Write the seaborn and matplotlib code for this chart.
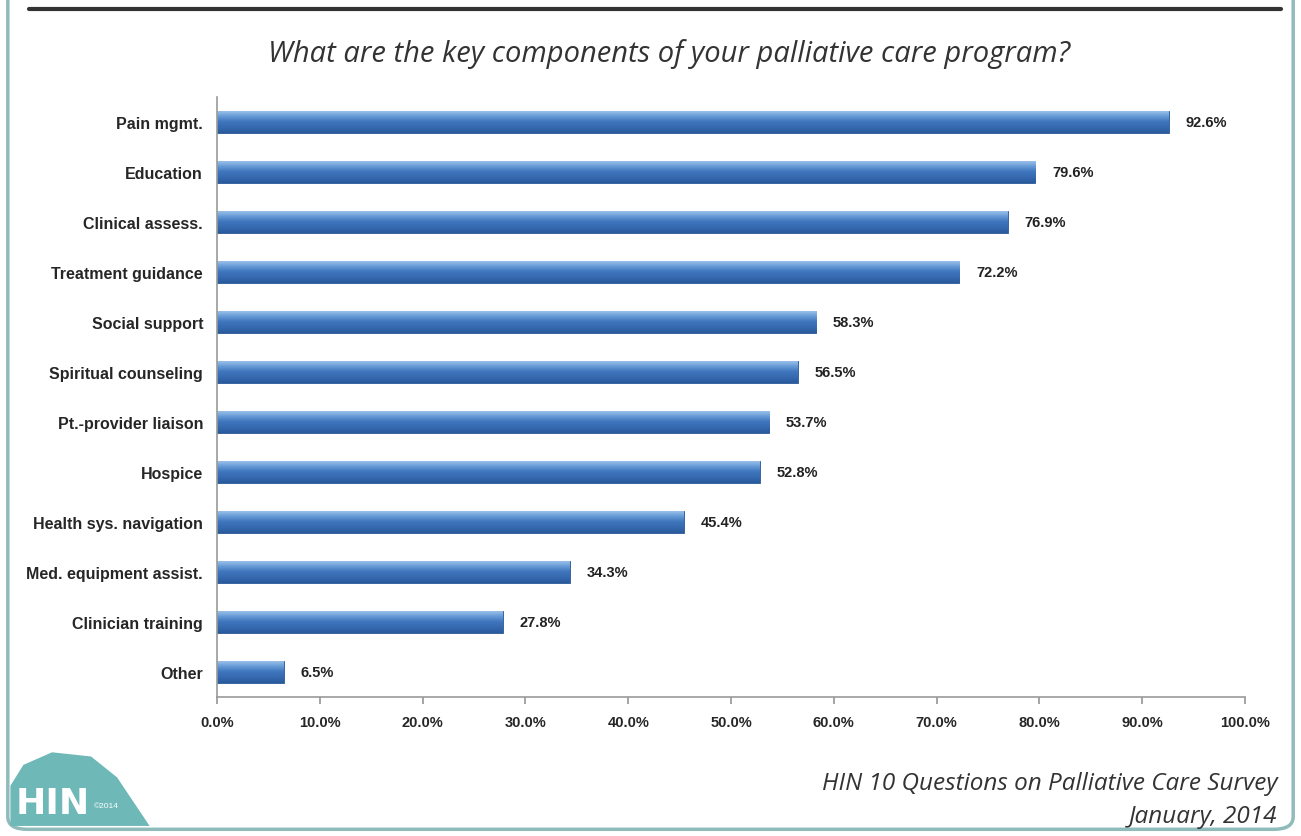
import matplotlib
matplotlib.use("Agg")
import matplotlib.pyplot as plt
import seaborn as sns
import numpy as np
import pandas as pd
from matplotlib.patches import FancyBboxPatch, Polygon
from matplotlib.lines import Line2D
from matplotlib.colors import LinearSegmentedColormap

categories = [
    "Pain mgmt.", "Education", "Clinical assess.", "Treatment guidance",
    "Social support", "Spiritual counseling", "Pt.-provider liaison",
    "Hospice", "Health sys. navigation", "Med. equipment assist.",
    "Clinician training", "Other",
]
values = [92.6, 79.6, 76.9, 72.2, 58.3, 56.5, 53.7, 52.8, 45.4, 34.3, 27.8, 6.5]
tick_values = [0, 10, 20, 30, 40, 50, 60, 70, 80, 90, 100]

title = "What are the key components of your palliative care program?"
source = "HIN 10 Questions on Palliative Care Survey\nJanuary, 2014"

df = pd.DataFrame({"component": categories, "pct": values})

sns.set_theme(style="white")
plt.rcParams["font.family"] = ["Liberation Sans Narrow", "Liberation Sans", "DejaVu Sans"]

fig = plt.figure(figsize=(13.01, 8.37), dpi=100)
fig.patch.set_facecolor("white")

# slide frame
frame = FancyBboxPatch((0.006, 0.008), 0.988, 1.05, boxstyle="round,pad=0,rounding_size=0.015",
                       transform=fig.transFigure, facecolor="none", edgecolor="#8fbcbb",
                       linewidth=2.5, zorder=-1)
fig.patches.append(frame)
fig.lines.append(Line2D([0.022, 0.985], [0.988, 0.988], transform=fig.transFigure,
                        color="#333333", linewidth=3))

ax = fig.add_axes([0.1668, 0.166, 0.7902, 0.717])
ax.set_zorder(2)
ax.patch.set_alpha(0)
sns.barplot(data=df, x="pct", y="component", ax=ax, color="#3a70b8",
            width=0.44, edgecolor="#2a5996", linewidth=0.6, saturation=1)

# gradient fill on each bar, like the original's bevelled bars
grad = LinearSegmentedColormap.from_list(
    "bar", ["#a3c6ec", "#6a9dd8", "#3f76bd", "#3669b0", "#2a5a9c"])
ramp = np.linspace(0, 1, 64).reshape(-1, 1)
for bar in ax.patches:
    x0, y0 = bar.get_x(), bar.get_y()
    w, h = bar.get_width(), bar.get_height()
    # y axis is inverted: y0 is the top edge on screen
    im = ax.imshow(ramp, cmap=grad, aspect="auto", extent=(x0, x0 + w, y0 + h, y0),
                   origin="upper", zorder=bar.get_zorder() + 0.1, interpolation="bilinear")
    im.set_clip_path(bar)
ax.set_ylim(len(categories) - 0.5, -0.5)

ax.set_xlim(0, 100)
ax.set_xticks(tick_values)
ax.set_xticklabels([f"{v:.1f}%" for v in tick_values], fontsize=10.5, fontweight="bold")
ax.tick_params(axis="y", labelsize=11.5, pad=4)
for lbl in ax.get_yticklabels():
    lbl.set_fontweight("bold")
ax.set_xlabel("")
ax.set_ylabel("")
for side in ["top", "right"]:
    ax.spines[side].set_visible(False)
for side in ["left", "bottom"]:
    ax.spines[side].set_color("#999999")
    ax.spines[side].set_linewidth(1.2)
ax.tick_params(axis="x", bottom=True, length=5, color="#999999", pad=8)
ax.tick_params(axis="y", left=False)

for container in ax.containers:
    ax.bar_label(container, labels=[f"{v:.1f}%" for v in values], padding=12,
                 fontsize=10.5, fontweight="bold", color="#222222")

fig.text(0.514, 0.936, title, ha="center", va="center", fontsize=21,
         style="italic", color="#333333", family=["Open Sans", "DejaVu Sans"])
fig.text(0.982, 0.044, source, ha="right", va="center", fontsize=17.5,
         style="italic", color="#333333", linespacing=1.5, family=["Open Sans", "DejaVu Sans"])

# logo
logo = Polygon([(0.008, 0.012), (0.008, 0.06), (0.018, 0.085), (0.04, 0.1), (0.07, 0.095),
                (0.09, 0.07), (0.115, 0.012)], closed=True, transform=fig.transFigure,
               facecolor="#6fb8b8", edgecolor="none", zorder=1)
fig.patches.append(logo)
fig.text(0.012, 0.04, "HIN", fontsize=26, fontweight="bold", color="white",
         family=["DejaVu Sans"], va="center")
fig.text(0.072, 0.036, "©2014", fontsize=6, color="white", va="center")

fig.savefig("out.png", dpi=100)
